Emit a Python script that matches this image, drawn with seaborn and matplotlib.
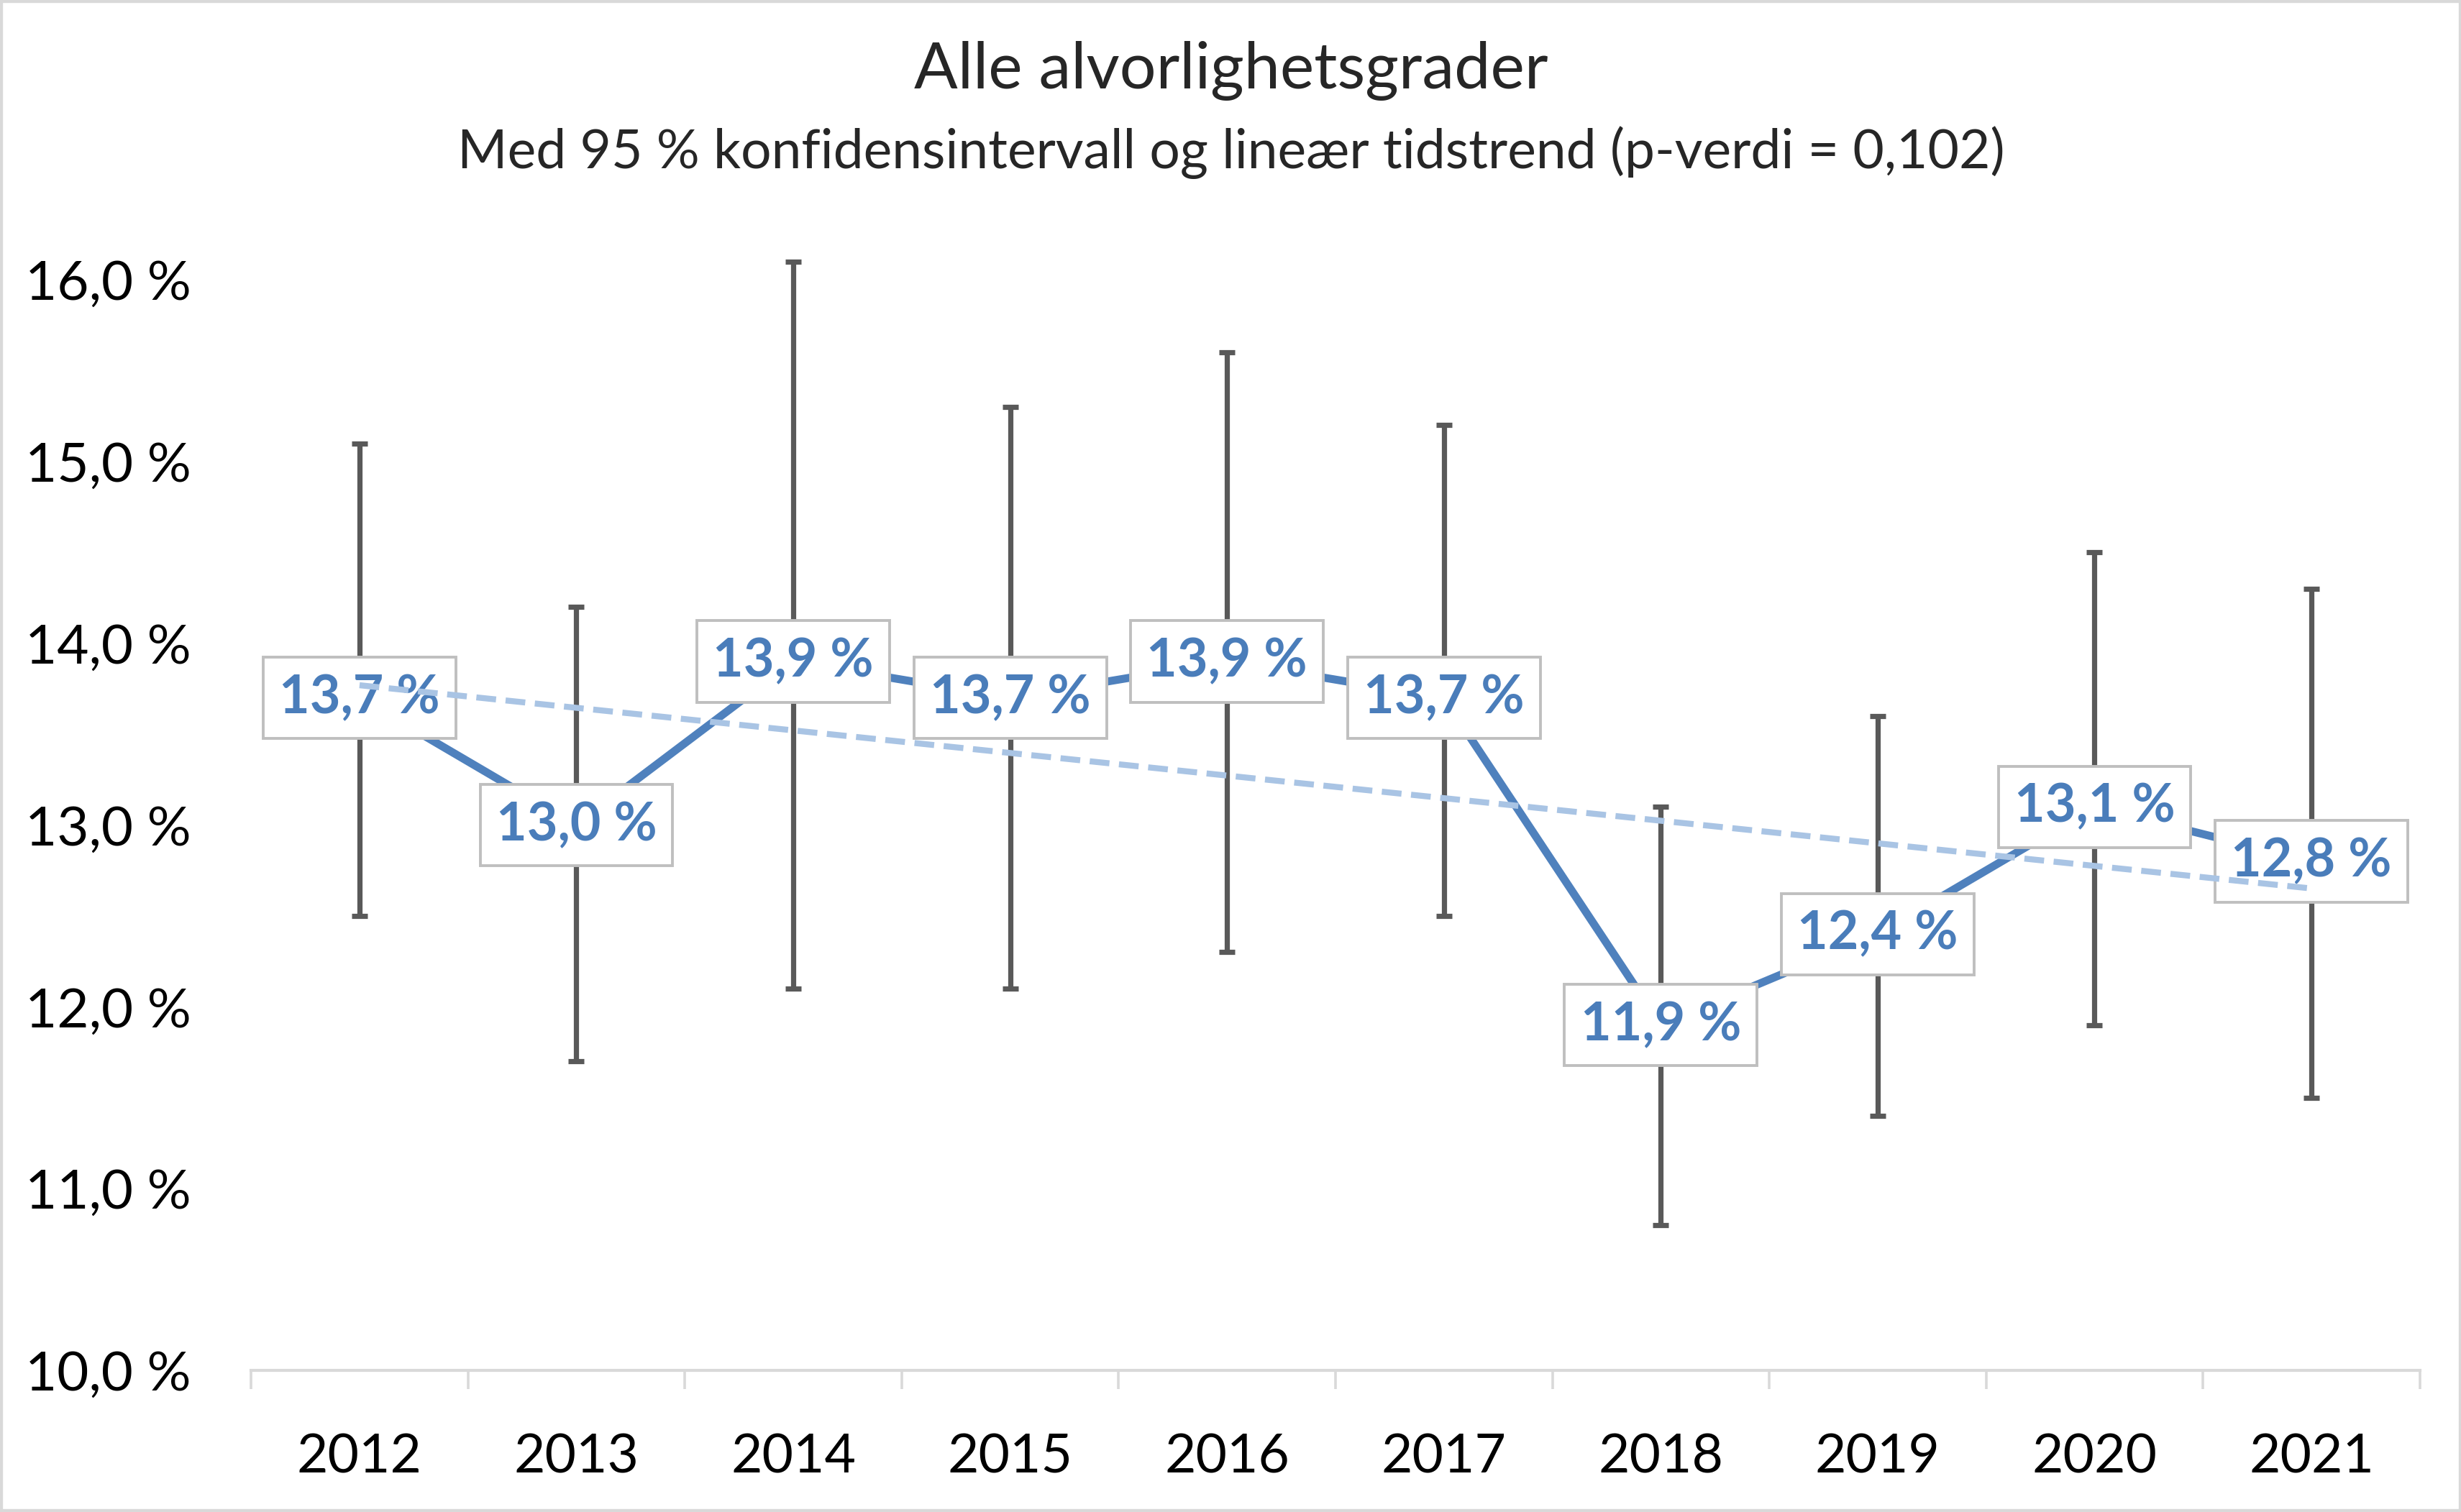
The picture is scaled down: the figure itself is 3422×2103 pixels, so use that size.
import numpy as np
import pandas as pd
import seaborn as sns
import matplotlib.pyplot as plt
from matplotlib.patches import Rectangle
from matplotlib.ticker import FuncFormatter

# data
years = ["2012", "2013", "2014", "2015", "2016", "2017", "2018", "2019", "2020", "2021"]
andel = [13.7, 13.0, 13.9, 13.7, 13.9, 13.7, 11.9, 12.4, 13.1, 12.8]
ki_nedre = [12.5, 11.7, 12.1, 12.1, 12.3, 12.5, 10.8, 11.4, 11.9, 11.5]
ki_ovre = [15.1, 14.2, 16.1, 15.3, 15.6, 15.2, 13.1, 13.6, 14.5, 14.3]

df = pd.DataFrame({"aar": years, "pos": np.arange(len(years)),
                   "andel": andel, "lo": ki_nedre, "hi": ki_ovre})

sns.set_theme(style="white")
plt.rcParams["font.family"] = ["Lato", "DejaVu Sans"]

fig, ax = plt.subplots(figsize=(17.115, 10.515), dpi=200)
fig.subplots_adjust(left=0.102, right=0.983, bottom=0.0937, top=0.815)

# 95 % CI
eb = ax.errorbar(df["pos"], df["andel"],
                 yerr=[df["andel"] - df["lo"], df["hi"] - df["andel"]],
                 fmt="none", ecolor="#595959", elinewidth=2.6,
                 capsize=3.8, capthick=2.6, zorder=2)
for art in list(eb.lines[1]) + list(eb.lines[2]):
    art.set_clip_on(False)

sns.lineplot(data=df, x="pos", y="andel", color="#4f81bd", lw=4, ax=ax, zorder=3)

# linear time trend
sns.regplot(data=df, x="pos", y="andel", scatter=False, ci=None, ax=ax,
            line_kws=dict(color="#a9c4e4", lw=3, ls=(0, (3.3, 1.6)), zorder=5))

for _, row in df.iterrows():
    ax.text(row["pos"], row["andel"], f"{row['andel']:.1f} %".replace(".", ","),
            ha="center", va="center", fontsize=26.5, fontweight="bold",
            color="#4a7dba", zorder=4,
            bbox=dict(boxstyle="square,pad=0.3", fc="white", ec="#bfbfbf", lw=1.4))

ax.set_xlim(-0.5, 9.5)
ax.set_ylim(10, 16)
ax.set_yticks(np.arange(10, 16.1, 1))
ax.yaxis.set_major_formatter(FuncFormatter(lambda v, p: f"{v:.1f} %".replace(".", ",")))
ax.set_xticks(df["pos"])
ax.set_xticklabels(years)
ax.set_xticks(np.arange(-0.5, 10, 1), minor=True)
ax.set_xlabel("")
ax.set_ylabel("")

ax.tick_params(axis="x", which="major", length=0, pad=31, labelsize=27, colors="black")
ax.tick_params(axis="x", which="minor", bottom=True, length=9.4, width=1.3,
               color="#d9d9d9", direction="out")
ax.tick_params(axis="y", length=0, pad=30, labelsize=27.5, colors="black")

for s in ["left", "top", "right"]:
    ax.spines[s].set_visible(False)
ax.spines["bottom"].set_color("#d9d9d9")
ax.spines["bottom"].set_linewidth(1.5)

fig.text(0.5, 0.953, "Alle alvorlighetsgrader", ha="center", va="center", fontsize=32.3)
fig.text(0.5, 0.899, "Med 95 % konfidensintervall og lineær tidstrend (p-verdi = 0,102)",
         ha="center", va="center", fontsize=27)

fig.patches.append(Rectangle((0, 0), 1, 1, transform=fig.transFigure, fill=False,
                             ec="#d9d9d9", lw=3))

fig.savefig("out.png", dpi=200)
